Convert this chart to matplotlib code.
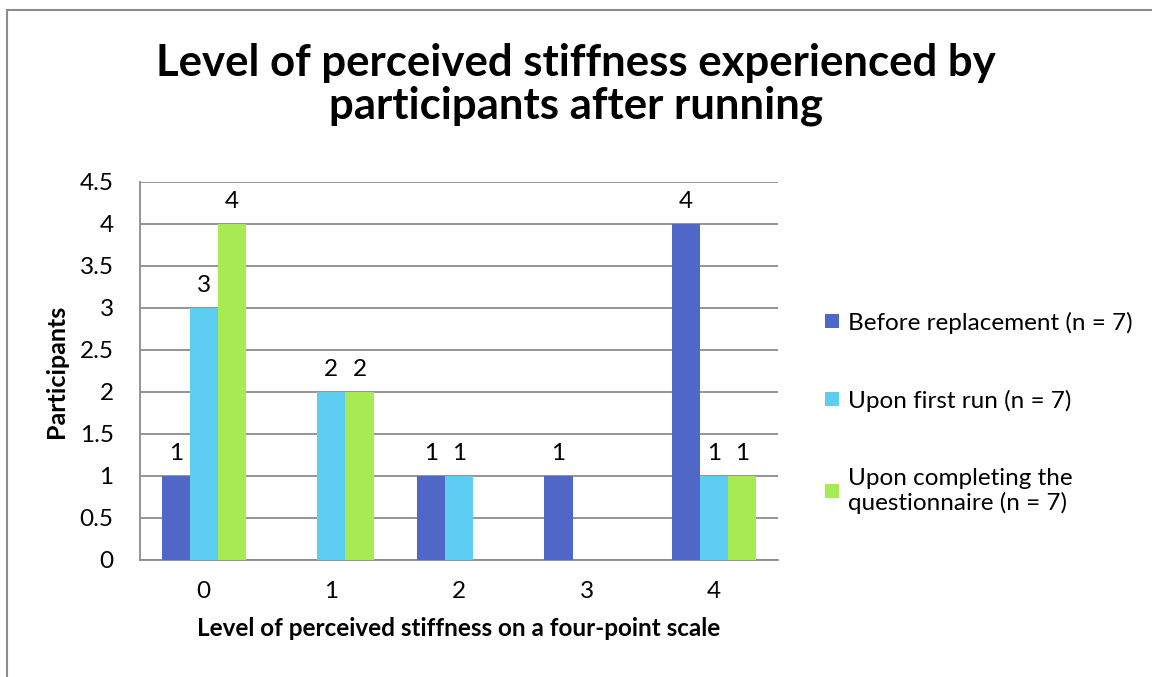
import numpy as np
import matplotlib.pyplot as plt
from matplotlib.patches import Rectangle

plt.rcParams['font.family'] = ['Lato', 'DejaVu Sans']

levels = ['0', '1', '2', '3', '4']
series_names = ['Before replacement (n = 7)',
                'Upon first run (n = 7)',
                'Upon completing the\nquestionnaire (n = 7)']
before = [1, 0, 1, 1, 4]
first_run = [3, 2, 1, 0, 1]
completing = [4, 2, 0, 0, 1]
colors = ['#4F68C8', '#5DCDF2', '#A8EA52']

fig = plt.figure(figsize=(11.52, 6.77), dpi=100)
ax = fig.add_axes([140 / 1152, 1 - 560 / 677, 638 / 1152, 378 / 677])

# outer chart border (Excel style)
fig.patches.append(Rectangle((7 / 1152, -0.1), 1.2, 1 - 10 / 677 + 0.1,
                             transform=fig.transFigure, fill=False,
                             edgecolor='#8c8c8c', linewidth=1.5))

fs = 17.5
x = np.arange(len(levels))
w = 0.22
for i, (vals, name) in enumerate(zip([before, first_run, completing], series_names)):
    bars = ax.bar(x + (i - 1) * w, vals, w, color=colors[i], label=name, zorder=3)
    ax.bar_label(bars, labels=[str(v) if v else '' for v in vals],
                 padding=9, fontsize=fs, zorder=4)

ax.set_xlim(-0.5, len(levels) - 0.5)
ax.set_ylim(0, 4.5)
ax.set_yticks(np.arange(0, 4.51, 0.5))
ax.set_yticklabels(['0', '0.5', '1', '1.5', '2', '2.5', '3', '3.5', '4', '4.5'])
ax.set_xticks(x)
ax.set_xticklabels(levels)
ax.tick_params(axis='both', length=0, labelsize=fs)
ax.tick_params(axis='x', pad=15)
ax.tick_params(axis='y', pad=19)
ax.grid(axis='y', color='#8c8c8c', linewidth=1.3, zorder=0)
for s in ['top', 'right']:
    ax.spines[s].set_visible(False)
for s in ['left', 'bottom']:
    ax.spines[s].set_color('#8c8c8c')
    ax.spines[s].set_linewidth(1.3)

ax.set_xlabel('Level of perceived stiffness on a four-point scale',
              fontsize=fs, fontweight='bold', labelpad=11)
ax.set_ylabel('Participants', fontsize=18, fontweight='bold', labelpad=8)

fig.suptitle('Level of perceived stiffness experienced by\nparticipants after running',
             fontsize=31.5, fontweight='bold', x=0.5, y=0.937, linespacing=1.1)

ax.legend(loc='upper left', bbox_to_anchor=(1.04, 0.715), frameon=False,
          fontsize=fs, handlelength=0.55, handleheight=0.55, handletextpad=0.4,
          labelspacing=2.3)

fig.savefig('out.png', dpi=100)
